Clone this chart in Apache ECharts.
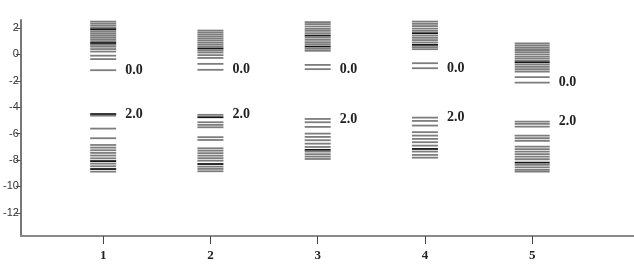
<!DOCTYPE html>
<html>
<head>
<meta charset="utf-8">
<script src="https://cdn.jsdelivr.net/npm/echarts@6/dist/echarts.min.js"></script>
<style>html,body{margin:0;padding:0;background:#fff;}#c{width:634px;height:277px;}</style>
</head>
<body>
<div id="c"></div>
<script>
// ---- data ----
const categories = [1, 2, 3, 4, 5];
const yTickValues = [-12, -10, -8, -6, -4, -2, 0, 2];
const upperLabel = '0.0';
const lowerLabel = '2.0';

const upper1 = [2.48, 2.33, 2.18, 2.03, 1.9, 1.75, 1.6, 1.45, 1.3, 1.15, 1.0, 0.86, 0.72, 0.58, 0.4, 0.21, -0.1, -0.36, -1.2];
const lower1 = [-4.52, -4.64, -5.62, -6.35, -6.86, -7.06, -7.26, -7.46, -7.66, -7.87, -8.08, -8.27, -8.47, -8.68, -8.88];
const dark1 = [1.9, 0.86, -4.52, -8.08, -8.68];

const upper2 = [1.8, 1.65, 1.5, 1.35, 1.2, 1.05, 0.89, 0.74, 0.59, 0.44, 0.29, 0.14, -0.06, -0.27, -0.72, -1.17];
const lower2 = [-4.58, -4.76, -5.14, -5.34, -5.52, -6.27, -6.48, -7.11, -7.29, -7.48, -7.67, -7.86, -8.05, -8.3, -8.5, -8.67, -8.85];
const dark2 = [0.44, -4.76, -8.3];

const upper3 = [2.44, 2.29, 2.11, 1.93, 1.78, 1.6, 1.42, 1.27, 1.1, 0.92, 0.77, 0.59, 0.42, 0.27, -0.8, -1.12];
const lower3 = [-4.89, -5.14, -5.49, -6.0, -6.25, -6.5, -6.76, -7.01, -7.23, -7.36, -7.56, -7.74, -7.92];
const dark3 = [1.42, 0.59, -7.23];

const upper4 = [2.48, 2.31, 2.14, 1.95, 1.78, 1.6, 1.42, 1.25, 1.08, 0.9, 0.72, 0.55, 0.39, -0.67, -1.05];
const lower4 = [-4.79, -5.04, -5.39, -5.89, -6.15, -6.4, -6.65, -6.91, -7.16, -7.36, -7.61, -7.82];
const dark4 = [1.6, 0.72, -7.16];

const upper5 = [0.82, 0.66, 0.5, 0.33, 0.17, 0.0, -0.17, -0.33, -0.5, -0.6, -0.78, -0.95, -1.12, -1.3, -1.73, -2.14];
const lower5 = [-5.09, -5.27, -5.47, -6.15, -6.35, -6.55, -6.98, -7.18, -7.36, -7.56, -7.74, -7.94, -8.2, -8.37, -8.55, -8.75, -8.88];
const dark5 = [-0.6, -8.2];

// ---- styles ----
const uppers = [upper1, upper2, upper3, upper4, upper5];
const lowers = [lower1, lower2, lower3, lower4, lower5];
const darks = [dark1, dark2, dark3, dark4, dark5];
const stripWidthPx = [26, 26, 26, 26, 35];

const lineData = [];
const labelData = [];
categories.forEach((c, i) => {
  uppers[i].concat(lowers[i]).forEach(v => {
    lineData.push([c, v, darks[i].includes(v) ? 1 : 0, i]);
  });
  labelData.push([c, Math.min.apply(null, uppers[i]), i, 0]);
  labelData.push([c, Math.max.apply(null, lowers[i]), i, 1]);
});

const chart = echarts.init(document.getElementById('c'), null, {renderer: 'canvas'});
chart.setOption({
  animation: false,
  backgroundColor: '#fff',
  grid: {left: 19, right: 0, top: 20, bottom: 41, containLabel: false},
  xAxis: {
    type: 'value', min: 0.233, max: 5.949,
    splitLine: {show: false},
    axisLine: {show: true, onZero: false, lineStyle: {color: '#8a8a8a', width: 2}},
    axisTick: {show: true, customValues: categories, length: 8, lineStyle: {color: '#444', width: 1}},
    axisLabel: {customValues: categories, margin: 13, fontFamily: 'Liberation Serif', fontWeight: 'bold', fontSize: 13, color: '#222'}
  },
  yAxis: {
    type: 'value', min: -13.75, max: 2.6,
    splitLine: {show: false},
    axisLine: {show: true, onZero: false, lineStyle: {color: '#777', width: 2}},
    axisTick: {show: true, customValues: yTickValues, length: 5, lineStyle: {color: '#555', width: 1}},
    axisLabel: {customValues: yTickValues, margin: 2, fontFamily: 'Liberation Sans', fontSize: 11, color: '#333'}
  },
  series: [
    {
      type: 'custom', silent: true, clip: false,
      encode: {x: 0, y: 1},
      data: lineData,
      renderItem: function (params, api) {
        const c = api.coord([api.value(0), api.value(1)]);
        const w = stripWidthPx[api.value(3)];
        const dark = api.value(2) === 1;
        return {
          type: 'line',
          shape: {x1: c[0] - w / 2, y1: c[1], x2: c[0] + w / 2, y2: c[1]},
          style: {stroke: dark ? '#151515' : '#7d7d7d', lineWidth: 1.8}
        };
      }
    },
    {
      type: 'custom', silent: true, clip: false,
      encode: {x: 0, y: 1},
      data: labelData,
      renderItem: function (params, api) {
        const c = api.coord([api.value(0), api.value(1)]);
        const w = stripWidthPx[api.value(2)];
        return {
          type: 'text',
          style: {
            text: api.value(3) === 0 ? upperLabel : lowerLabel,
            x: c[0] + w / 2 + 9, y: c[1],
            verticalAlign: 'middle', align: 'left',
            font: 'bold 14px "Liberation Serif"', fill: '#222'
          }
        };
      }
    }
  ]
});
</script>
</body>
</html>
